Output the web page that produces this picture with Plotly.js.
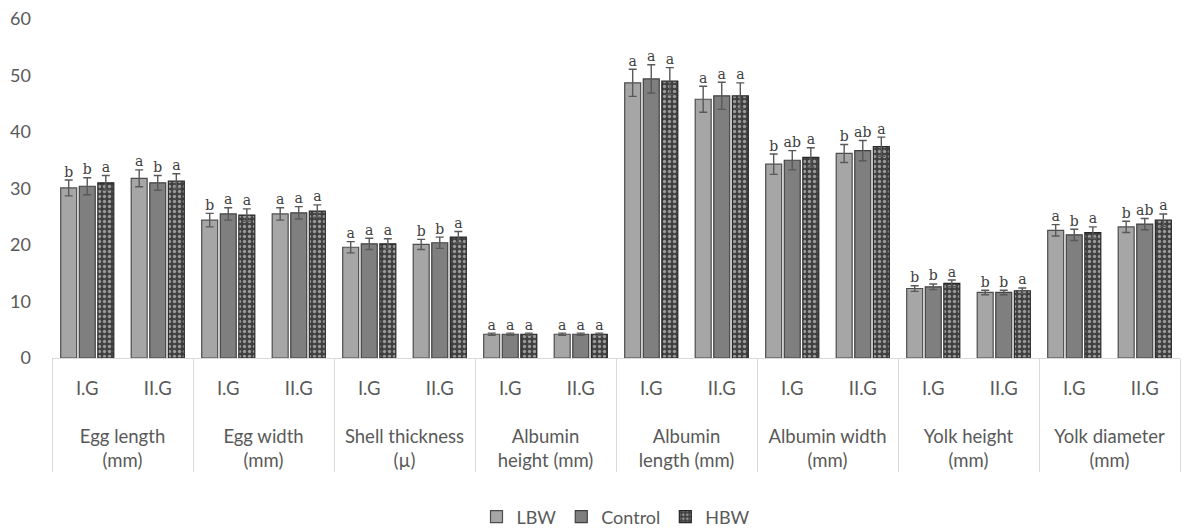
<!DOCTYPE html>
<html>
<head>
<meta charset="utf-8">
<script src="https://cdn.plot.ly/plotly-3.0.1.min.js"></script>
<style>
  html, body { margin: 0; padding: 0; background: #fff; }
  #chart { width: 1182px; height: 532px; }
</style>
</head>
<body>
<div id="chart"></div>
<script>
// Egg quality traits by parent body-weight line, two generations each
const traits = [
  "Egg length<br>(mm)", "Egg width<br>(mm)", "Shell thickness<br>(\u00b5)",
  "Albumin<br>height (mm)", "Albumin<br>length (mm)", "Albumin width<br>(mm)",
  "Yolk height<br>(mm)", "Yolk diameter<br>(mm)"
];
const generations = ["I.G", "II.G"];
const seriesNames = ["LBW", "Control", "HBW"];

// Means, in order trait1 I.G, trait1 II.G, trait2 I.G, ...
const lbwMean     = [30.1, 31.8, 24.4, 25.5, 19.6, 20.1, 4.2, 4.2, 48.7, 45.8, 34.3, 36.2, 12.3, 11.6, 22.6, 23.2];
const controlMean = [30.4, 31.0, 25.5, 25.7, 20.2, 20.4, 4.2, 4.2, 49.4, 46.4, 35.0, 36.7, 12.6, 11.6, 21.8, 23.7];
const hbwMean     = [31.0, 31.3, 25.3, 26.0, 20.2, 21.4, 4.2, 4.2, 49.0, 46.4, 35.5, 37.4, 13.2, 11.9, 22.2, 24.4];

// Standard errors
const lbwErr     = [1.4, 1.5, 1.2, 1.1, 1.0, 0.9, 0.2, 0.2, 2.4, 2.3, 1.8, 1.6, 0.5, 0.4, 1.0, 1.0];
const controlErr = [1.5, 1.3, 1.1, 1.1, 1.0, 1.0, 0.2, 0.2, 2.5, 2.4, 1.7, 1.8, 0.5, 0.4, 1.0, 1.0];
const hbwErr     = [1.3, 1.3, 1.1, 1.1, 0.9, 1.0, 0.2, 0.2, 2.4, 2.3, 1.7, 1.7, 0.6, 0.5, 1.0, 1.1];

// Significance letters
const lbwLetters     = ["b","a","b","a","a","b","a","a","a","a","b","b","b","b","a","b"];
const controlLetters = ["b","b","a","a","a","b","a","a","a","a","ab","ab","b","b","b","ab"];
const hbwLetters     = ["a","a","a","a","a","a","a","a","a","a","a","a","a","a","a","a"];

// Two-level category axis; an invisible tall second line under each
// generation label leaves room above the trait names
const genSpacer = "<br><span style=\"font-size:50px\">&nbsp;</span>";
const outerLevel = [];
const innerLevel = [];
traits.forEach(t => generations.forEach(g => { outerLevel.push(t); innerLevel.push(g + genSpacer); }));
const xCats = [outerLevel, innerLevel];

const styles = [
  { fill: "#a6a6a6", line: "#4d4d4d", pattern: null },
  { fill: "#7f7f7f", line: "#404040", pattern: null },
  { fill: "#404040", line: "#262626", pattern: { shape: ".", fgcolor: "#9a9a9a", bgcolor: "#404040", size: 5, solidity: 0.35 } }
];
const means = [lbwMean, controlMean, hbwMean];
const errs = [lbwErr, controlErr, hbwErr];
const letters = [lbwLetters, controlLetters, hbwLetters];

const data = [];
for (let i = 0; i < 3; i++) {
  const marker = { color: styles[i].fill, line: { color: styles[i].line, width: 1.2 } };
  if (styles[i].pattern) marker.pattern = styles[i].pattern;
  data.push({
    type: "bar",
    name: seriesNames[i],
    x: xCats,
    y: means[i],
    offsetgroup: String(i),
    marker: marker,
    error_y: { type: "data", array: errs[i], visible: true, color: "#595959", thickness: 1.4, width: 4 },
    hoverinfo: "y"
  });
}
for (let i = 0; i < 3; i++) {
  data.push({
    type: "scatter",
    mode: "text",
    x: xCats,
    y: means[i].map((v, k) => v + errs[i][k]),
    text: letters[i],
    textposition: "top center",
    textfont: { family: "DejaVu Serif, Liberation Serif, serif", size: 14, color: "#404040" },
    offsetgroup: String(i),
    showlegend: false,
    hoverinfo: "skip",
    cliponaxis: false
  });
}

const layout = {
  width: 1182,
  height: 532,
  margin: { l: 52, r: 2, t: 19, b: 174, autoexpand: false },
  paper_bgcolor: "#ffffff",
  plot_bgcolor: "#ffffff",
  barmode: "group",
  bargap: 0.21,
  bargroupgap: 0.14,
  scattermode: "group",
  scattergap: 0.21,
  font: { family: "Lato, 'Open Sans', sans-serif", size: 18, color: "#595959" },
  xaxis: {
    type: "multicategory",
    showline: true,
    linecolor: "#d9d9d9",
    linewidth: 1,
    showdividers: true,
    dividercolor: "#d9d9d9",
    dividerwidth: 1,
    tickfont: { size: 18.5, color: "#595959" },
    ticks: "",
    ticklabelstandoff: 14,
    showgrid: false
  },
  yaxis: {
    range: [0, 60],
    dtick: 10,
    showgrid: false,
    zeroline: false,
    showline: false,
    ticks: "",
    tickfont: { size: 18, color: "#595959" },
    ticklabelstandoff: 20
  },
  legend: {
    orientation: "h",
    x: 0.5,
    xanchor: "center",
    y: -0.469,
    yanchor: "middle",
    font: { size: 18, color: "#595959" },
    itemwidth: 30,
    tracegroupgap: 0
  },
  showlegend: true
};

Plotly.newPlot("chart", data, layout, { displayModeBar: false, staticPlot: true });
</script>
</body>
</html>
